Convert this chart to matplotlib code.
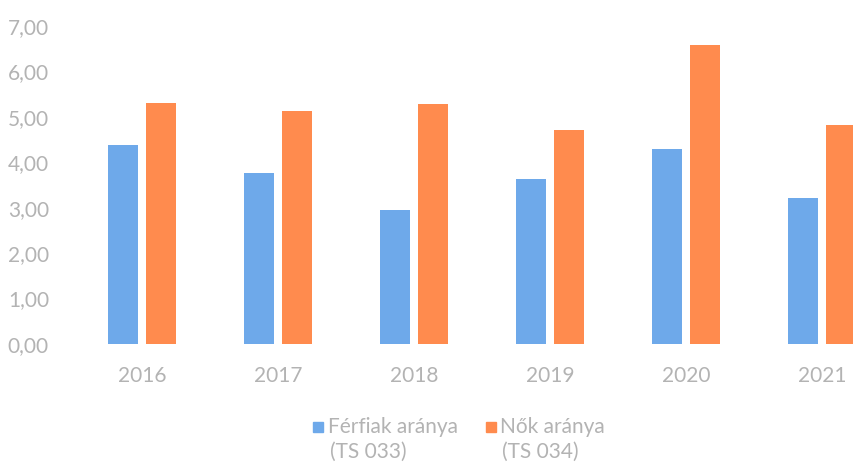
import matplotlib
matplotlib.use("Agg")
import matplotlib.pyplot as plt
from matplotlib.patches import Rectangle
import numpy as np

years = ["2016", "2017", "2018", "2019", "2020", "2021"]
men = [4.38, 3.76, 2.95, 3.63, 4.30, 3.21]
women = [5.30, 5.13, 5.29, 4.70, 6.58, 4.82]
yticks = [0, 1, 2, 3, 4, 5, 6, 7]
series_labels = ["Férfiak aránya\n(TS 033)", "Nők aránya\n(TS 034)"]

BLUE = "#6ea9ea"
ORANGE = "#ff8b4e"
GRAY = "#b3b3b3"
FONT = ["Lato", "DejaVu Sans"]

W, H = 854, 467
fig = plt.figure(figsize=(W / 100, H / 100), dpi=100)
ax = fig.add_axes([74 / W, 1 - 344 / H, 1 - 74 / W, (344 - 26) / H])

x = np.arange(len(years))
bw = 0.22
off = 0.143
ax.bar(x - off, men, width=bw, color=BLUE)
ax.bar(x + off, women, width=bw, color=ORANGE)

ax.set_xlim(-0.5, (854 - 142) / 136)
ax.set_ylim(0, 7)
ax.set_yticks(yticks)
ax.set_yticklabels([f"{v:.2f}".replace(".", ",") for v in yticks],
                   fontsize=15, color=GRAY, family=FONT)
ax.set_xticks(x)
ax.set_xticklabels(years, fontsize=15, color=GRAY, family=FONT)
ax.tick_params(axis="both", length=0)
ax.tick_params(axis="y", pad=18)
ax.tick_params(axis="x", pad=16)
for s in ax.spines.values():
    s.set_visible(False)

# legend
for (sx, tx, col, lab) in [(313, 328, BLUE, series_labels[0]),
                           (486, 500, ORANGE, series_labels[1])]:
    fig.patches.append(Rectangle((sx / W, 1 - 432 / H), 10 / W, 10 / H,
                                 transform=fig.transFigure, color=col))
    l1, l2 = lab.split("\n")
    fig.text(tx / W, 1 - 427 / H, l1, fontsize=15, color=GRAY, family=FONT,
             ha="left", va="center")
    fig.text((tx + 2) / W, 1 - 452 / H, l2, fontsize=15, color=GRAY, family=FONT,
             ha="left", va="center")

fig.savefig("out.png", dpi=100)
